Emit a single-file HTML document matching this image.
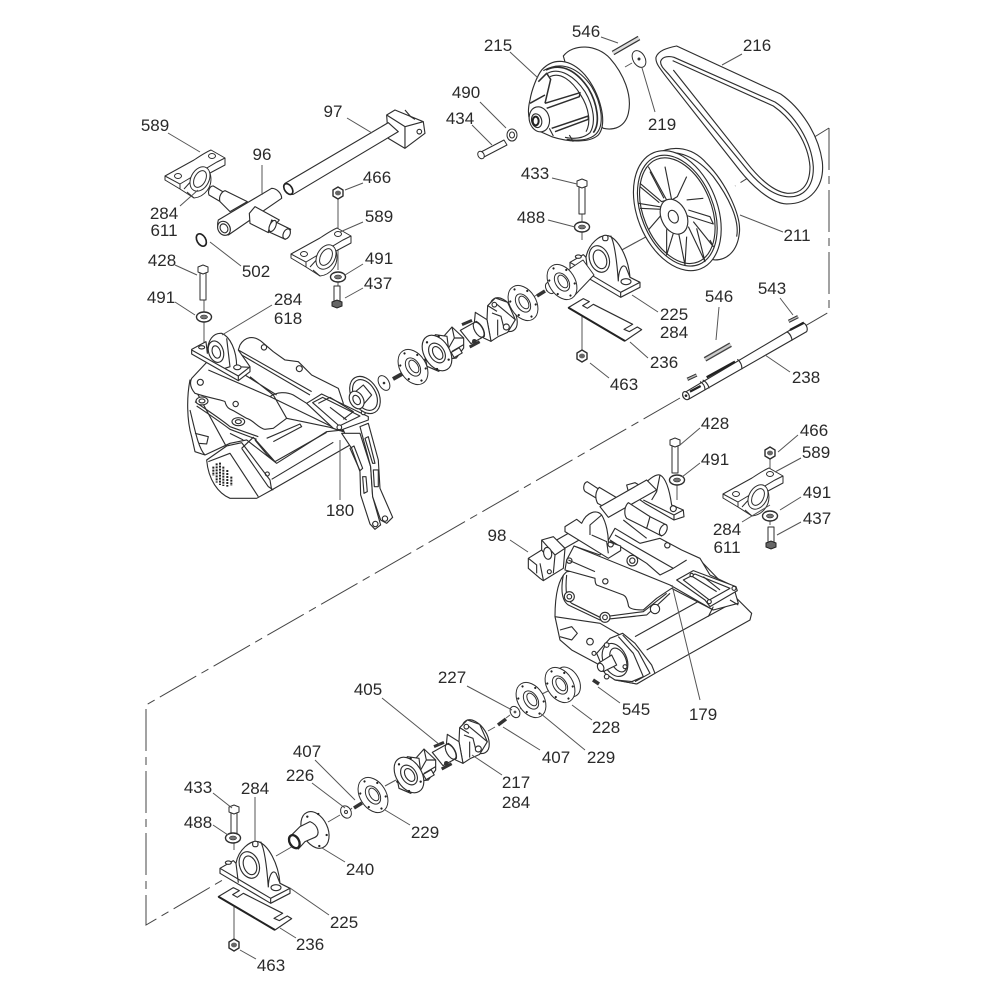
<!DOCTYPE html>
<html><head><meta charset="utf-8"><style>
html,body{margin:0;padding:0;background:#fff}
svg{display:block}
text{font-family:"Liberation Sans",sans-serif;font-size:17px;fill:#2a2a2a;text-anchor:middle}
.p{fill:#fff;stroke:#2e2e2e;stroke-width:1;stroke-linejoin:round}
.n{fill:none;stroke:#2e2e2e;stroke-width:1}
.z{fill:#fff;stroke:#2e2e2e;stroke-width:3.4;stroke-linejoin:round}
.zn{fill:none;stroke:#2e2e2e;stroke-width:3.4;stroke-linejoin:round}
.L{stroke:#555;stroke-width:1;fill:none}
.C{stroke:#444;stroke-width:1;fill:none;stroke-dasharray:42 6 8 6}
</style></head><body>
<svg width="1000" height="1000" viewBox="0 0 1000 1000" xmlns="http://www.w3.org/2000/svg">
<defs>
<g id="fl">
<g transform="rotate(-32)">
<ellipse class="p" cx="0" cy="0" rx="13" ry="19"/>
<ellipse class="p" cx="0" cy="0" rx="6.5" ry="10"/>
<ellipse class="p" cx="1" cy="0" rx="4" ry="7"/>
<g fill="#222"><circle cx="0" cy="-16" r="1.1"/><circle cx="0" cy="16" r="1.1"/><circle cx="10" cy="-8" r="1.1"/><circle cx="10" cy="8" r="1.1"/><circle cx="-10" cy="-8" r="1.1"/><circle cx="-10" cy="8" r="1.1"/></g>
</g></g>
<g id="uj"><g transform="scale(.3333) translate(-170 -250)">
<ellipse class="z" cx="370" cy="135" rx="33" ry="56" transform="rotate(-32 370 135)"/>
<path class="z" d="M322 108 L345 85 L382 98 L405 150 L382 188 L355 200 L332 215 L320 150 Z"/>
<path class="zn" d="M345 100 L375 125 L405 150 M335 130 L362 140 L372 180 M352 150 L352 198 M322 108 L350 125"/>
<circle class="z" cx="342" cy="105" r="7"/><circle class="z" cx="378" cy="172" r="9"/>
<path class="z" d="M285 128 L320 150 L332 215 L310 205 L295 170 L282 160 Z"/>
<path class="z" d="M240 182 L288 155 C305 165 315 185 312 200 L272 222 Z"/>
<ellipse class="zn" cx="295" cy="180" rx="12" ry="25" transform="rotate(-30 295 180)"/>
<path d="M245 165 L275 152" stroke="#333" stroke-width="9"/><path d="M268 232 L298 216" stroke="#333" stroke-width="9"/>
<circle cx="282" cy="215" r="7" fill="#333"/>
<path class="z" d="M190 200 L215 172 L250 205 L250 235 L228 265 L200 268 Z"/>
<path class="zn" d="M215 172 L222 205 L250 205 M222 205 L205 235 M215 245 L250 225"/>
<rect class="z" x="215" y="240" width="28" height="18" transform="rotate(-30 229 249)"/>
<path class="z" d="M130 240 L165 195 L200 200 L210 280 L175 305 L140 290 Z"/>
<ellipse class="z" cx="170" cy="250" rx="38" ry="58" transform="rotate(-32 170 250)"/>
<ellipse class="z" cx="170" cy="250" rx="22" ry="32" transform="rotate(-32 170 250)"/>
<ellipse class="z" cx="172" cy="250" rx="13" ry="21" transform="rotate(-32 172 250)"/>
<g fill="#222"><circle cx="140" cy="218" r="3.5"/><circle cx="175" cy="200" r="3.5"/><circle cx="205" cy="270" r="3.5"/><circle cx="170" cy="298" r="3.5"/><circle cx="135" cy="270" r="3.5"/></g>
</g></g>
<g id="fb">
<path class="p" d="M723 494 L752 478 C758 474 764 470 769 468 L783 476 L783 483 L768 491 C772 505 762 515 752 516 L738 507 L723 498 Z"/>
<path class="n" d="M723 494 L738 502 L738 507 M738 502 L775 480 L783 476 M742 507 L752 496 M745 510 L752 516"/>
<ellipse class="p" cx="758" cy="497" rx="9" ry="13" transform="rotate(28 758 497)"/>
<ellipse class="p" cx="758" cy="497" rx="5.5" ry="9" transform="rotate(28 758 497)"/>
<ellipse class="p" cx="736" cy="494" rx="3.5" ry="2.5"/><ellipse class="p" cx="770" cy="474" rx="3.5" ry="2.5"/>
</g>
<g id="pb"><g transform="translate(200 700) scale(.3333)">
<path class="z" d="M60 505 L100 482 L108 490 C115 450 150 420 175 425 C205 435 235 490 240 550 L270 565 L270 580 L212 610 L60 520 Z"/>
<path class="zn" d="M60 505 L212 595 L212 610 M212 595 L270 565 M108 490 L115 548 M205 562 C205 535 215 505 228 520 L240 550 M182 425 C195 450 202 520 205 562"/>
<ellipse class="z" cx="148" cy="495" rx="29" ry="41" transform="rotate(-20 148 495)"/>
<ellipse class="z" cx="150" cy="496" rx="19" ry="29" transform="rotate(-20 150 496)"/>
<rect class="z" x="158" y="424" width="16" height="16" rx="6"/>
<ellipse class="z" cx="228" cy="563" rx="15" ry="9"/>
<ellipse class="z" cx="85" cy="488" rx="9" ry="5"/>
</g></g>
<g id="pl"><g transform="translate(200 700) scale(.3333)">
<path class="z" d="M55 590 L100 563 L118 572 L98 584 L112 592 L130 580 L248 640 L222 655 L238 662 L262 648 L275 656 L225 690 Z"/>
<path d="M55 590 L225 690" stroke="#222" stroke-width="6"/>
</g></g>
<g id="nut"><path class="p" style="stroke-width:1.4" d="M-5 -3 L0 -6 L5 -3 L5 3 L0 6 L-5 3 Z"/><ellipse rx="3" ry="2.4" fill="#666"/></g>
<g id="wash"><ellipse class="p" style="stroke-width:1.4" rx="7.5" ry="5"/><ellipse rx="3.5" ry="2" fill="#777" stroke="#222" stroke-width=".6"/></g>
<g id="bolt"><rect class="p" x="-3" y="0" width="6" height="28"/><path class="p" d="M-5 0 L-5 -5 L0 -7 L5 -5 L5 0 L0 2 Z"/></g>
<g id="bolt2"><rect class="p" x="-3" y="-14" width="6" height="15"/><path d="M-5 2 L-5 6 L0 8 L5 6 L5 2 L0 0 Z" fill="#666" stroke="#222"/></g>
</defs>

<!-- centre lines -->
<path class="C" d="M829 128 V312 L687 395"/>
<path class="C" d="M829 128 L735 186 M655 232 L566 280"/>
<path class="C" d="M680 398 L146 705 V925 L226 878"/>
<path class="L" d="M338 198 V235 M338 250 V270 M338 282 V292 M204 295 V312 M204 322 V345 M582 212 V222 M582 232 V240 M582 300 V352 M677 480 V500 M770 456 V470 M770 512 V525 M234 842 V850 M234 905 V943"/>
<path class="L" d="M398 376 L410 369 M518 306 L505 314 M542 292 L528 300 M552 287 L546 291 M622 250 L640 240 M295 845 L276 856 M340 815 L328 822 M352 808 L350 810 M385 786 L396 780 M495 727 L488 731 M506 718 L510 715 M520 709 L525 706 M540 695 L550 690"/>

<!-- Belt 216 -->
<g transform="translate(510 20) scale(.3333)">
<path class="z" d="M438 112 C445 92 470 84 500 78 L812 222 C870 262 925 340 937 425 C945 500 900 552 830 552 C780 550 720 490 690 452 L470 172 C450 145 436 130 438 112 Z"/>
<path class="zn" d="M452 124 C458 108 478 108 492 112 L795 246 C855 285 905 365 910 440 C912 505 875 535 830 530 C780 525 735 480 700 435 L478 165 C465 150 450 138 452 124 Z"/>
<path class="zn" d="M488 122 L790 258 C848 298 895 370 900 440 C900 500 870 522 832 520 C790 515 750 478 712 430 L490 150"/>
<!-- pulley 211 -->
<path class="z" d="M438 405 C470 378 540 372 590 430 C650 490 695 590 688 640 C682 695 650 720 615 720 L500 700 L400 500 Z"/>
<path class="zn" d="M445 403 C500 385 560 410 610 470 C655 530 690 600 680 650"/>
<ellipse class="z" cx="502" cy="572" rx="120" ry="188" transform="rotate(-22 502 572)"/>
<ellipse class="zn" cx="502" cy="572" rx="108" ry="174" transform="rotate(-22 502 572)"/>
<ellipse class="zn" cx="502" cy="572" rx="102" ry="166" transform="rotate(-22 502 572)"/>
<path class="zn" d="M415 440 L470 540 L455 545 L390 490 M465 440 L485 540 L502 530 L530 470 M385 550 L460 562 L460 578 L415 630 M530 540 L580 535 M525 585 L610 612 L600 590 L535 570 M470 628 L470 705 L490 640 M505 635 L525 735 L530 650 M535 620 L585 725 L560 625 M550 605 L610 680 L600 660"/>
<path class="zn" d="M420 455 L462 535 M390 500 L448 548 M390 565 L455 568"/>
<ellipse class="z" cx="492" cy="590" rx="38" ry="55" transform="rotate(-25 492 590)"/>
<ellipse class="z" cx="490" cy="590" rx="14" ry="20" transform="rotate(-25 490 590)"/>
<!-- pulley 215 -->
<path class="z" d="M160 108 C190 70 260 72 300 115 C340 160 368 225 355 280 C345 322 310 332 280 325 L200 250 Z"/>
<path class="z" d="M95 150 C130 112 180 115 225 165 C270 220 295 310 265 345 C240 368 180 368 125 350 L80 330 C55 310 50 280 60 240 C65 210 80 170 95 150 Z"/>
<path class="zn" d="M100 152 C160 118 210 150 245 200 C275 250 285 315 258 342 C240 360 205 364 170 358"/>
<path class="zn" style="stroke-width:5" d="M108 150 C160 125 205 160 235 205 C262 250 272 310 250 338"/>
<path class="zn" d="M112 160 C150 140 195 170 225 215 C252 260 258 310 240 338 C220 356 190 358 165 352"/>
<path class="zn" d="M120 170 C150 155 185 180 212 225 C238 265 243 310 228 335"/>
<path class="zn" style="stroke-width:4.5" d="M85 185 L110 160 L122 178 L105 250 M60 250 L105 225 M105 250 L210 218 L208 230 L110 265 M125 325 L235 288 L235 298 L135 335"/>
<path class="zn" d="M118 325 L130 348 M178 345 L190 365"/>
<ellipse class="z" cx="88" cy="298" rx="30" ry="38" transform="rotate(-15 88 298)"/>
<ellipse class="z" cx="80" cy="302" rx="15" ry="21" transform="rotate(-15 80 302)"/>
<ellipse cx="77" cy="303" rx="9" ry="13" fill="#fff" stroke="#222" stroke-width="6"/>
</g>
<path d="M613 53 L639 38" stroke="#333" stroke-width="5"/><path d="M613 53 L639 38" stroke="#ddd" stroke-width="2.5"/>
<g transform="translate(639 59)"><ellipse class="p" rx="6" ry="9" transform="rotate(-30)"/><circle r="1.5" fill="#333"/></g>
<path class="L" d="M625 67 L632 63"/>

<!-- 490, 434 -->
<g transform="translate(512 135)"><ellipse class="p" rx="5" ry="6"/><ellipse class="p" rx="2.5" ry="3"/></g>
<path class="p" d="M481 152 L504 140 L507 145 L484 157 Z"/><ellipse class="p" cx="481" cy="155" rx="3" ry="4" transform="rotate(-30 481 155)"/>

<!-- T bar, bar 97, 589 -->
<g transform="translate(140 100) scale(.3333)">
<path class="z" d="M740 45 L765 30 L850 65 L855 100 L795 145 L745 115 Z"/>
<path class="zn" d="M740 45 L795 80 L850 65 M795 80 L795 145 M795 30 L812 50 L825 58"/>
<circle class="zn" cx="838" cy="95" r="7"/>
<path class="z" d="M435 250 L745 68 L775 95 L460 283 C445 285 425 268 435 250 Z"/>
<ellipse cx="445" cy="267" rx="11" ry="18" fill="#fff" stroke="#222" stroke-width="5" transform="rotate(-35 445 267)"/>
<path class="z" d="M220 258 C208 258 203 275 207 285 L250 310 L265 285 Z"/>
<path class="z" d="M255 272 L322 305 L270 335 L240 305 C235 290 245 275 255 272 Z"/>
<path class="z" d="M235 360 L395 265 C410 265 425 280 425 295 L265 405 C240 405 228 385 235 360 Z"/>
<ellipse class="z" cx="252" cy="385" rx="18" ry="22" transform="rotate(-30 252 385)"/>
<ellipse class="z" cx="252" cy="385" rx="11" ry="14" transform="rotate(-30 252 385)"/>
<path class="z" d="M345 320 L418 360 L385 398 L330 370 L328 340 Z"/>
<path class="z" d="M395 360 L452 388 L436 418 L385 395 Z"/>
<ellipse class="z" cx="440" cy="402" rx="10" ry="16" transform="rotate(25 440 402)"/>
<ellipse class="z" cx="398" cy="378" rx="9" ry="18" transform="rotate(25 398 378)"/>
<ellipse cx="184" cy="420" rx="13" ry="20" fill="none" stroke="#222" stroke-width="5" transform="rotate(-30 184 420)"/>
</g>
<use href="#fb" transform="translate(-558 -318)"/>
<use href="#fb" transform="translate(-432 -240)"/>
<use href="#fb"/>
<use href="#nut" transform="translate(338 193)"/>
<use href="#wash" transform="translate(338 277)"/>
<use href="#bolt2" transform="translate(337 300)"/>
<use href="#bolt" transform="translate(203 272)"/>
<use href="#wash" transform="translate(204 317)"/>
<use href="#bolt" transform="translate(582 186)"/>
<use href="#wash" transform="translate(582 227)"/>
<use href="#pl" transform="translate(350 -589)"/>
<use href="#pb" transform="translate(350 -606)"/>
<use href="#nut" transform="translate(582 356)"/>

<!-- gearbox left -->
<g transform="translate(130 320) scale(.3333)">
<path class="z" d="M180 180 C170 230 170 300 185 350 L195 395 L225 405 L300 370 L350 360 L440 430 L590 335 L640 330 L660 375 L425 510 L300 400 Z"/>
<path class="zn" d="M180 270 C195 330 205 385 225 405 M195 340 L235 350 L230 372 L205 370 M300 340 L340 360 M410 355 L510 312 L515 320 L430 365 M435 425 L590 337 M425 478 L610 367"/>
<path class="z" d="M230 420 L290 378 L335 368 L420 480 L425 510 L380 535 L300 535 C265 520 235 480 230 420 Z"/>
<path class="zn" d="M335 385 L415 500 L430 510 M335 385 L370 352 L435 425 L412 405 L375 360 M235 425 L300 400 L385 530"/>
<circle class="zn" cx="412" cy="462" r="6"/>
<g stroke="#222" stroke-width="6" stroke-dasharray="6 3" fill="none"><path d="M250 440 V468"/><path d="M260 430 V488"/><path d="M270 428 V495"/><path d="M280 440 V498"/><path d="M292 450 V500"/><path d="M304 470 V498"/></g>
<!-- manifold plate -->
<path class="z" d="M185 175 L232 125 L325 180 L360 140 L325 90 L330 75 C345 50 370 45 395 65 L430 95 L465 120 L505 125 L545 165 L625 205 L640 250 L610 300 L640 335 L600 322 L470 295 L430 325 L405 328 C385 325 370 300 350 295 L310 272 C300 268 290 265 285 245 C280 240 240 235 195 220 C182 205 178 190 185 175 Z"/>
<path class="zn" d="M325 90 L545 215 M335 105 L540 225 M235 150 L420 230 L610 322 M420 230 C440 215 470 215 490 225 L530 250 M345 165 L440 225 M360 170 L430 225 L470 295"/>
<path class="zn" d="M195 245 C230 270 270 295 300 320 L385 350 M200 258 C240 285 270 305 300 328 L380 358"/>
<circle class="zn" cx="211" cy="187" r="9"/><circle class="zn" cx="317" cy="252" r="8"/><circle class="zn" cx="402" cy="82" r="8"/><circle class="zn" cx="508" cy="146" r="9"/>
<ellipse class="z" cx="216" cy="243" rx="18" ry="12"/><ellipse class="z" cx="216" cy="243" rx="9" ry="6"/>
<ellipse class="z" cx="325" cy="305" rx="19" ry="12"/><ellipse class="z" cx="325" cy="305" rx="9" ry="6"/>
<!-- arms -->
<path class="z" d="M635 340 L665 385 L690 455 L692 525 L720 612 L735 628 L752 615 L728 530 L722 440 L690 340 Z"/>
<path class="z" d="M690 320 L715 310 L745 420 L750 505 L788 592 L770 610 L752 600 L728 530 L722 440 Z"/>
<path class="zn" d="M660 385 L672 378 L698 445 L690 452 Z M698 470 L708 470 L712 515 L702 520 Z M705 355 L715 350 L735 430 L728 430 Z M730 450 L745 450 L745 500 L733 500 Z"/>
<circle class="z" cx="736" cy="612" r="8"/><circle class="z" cx="765" cy="596" r="8"/>
<!-- frame -->
<path class="z" d="M530 250 L575 222 L715 290 L715 300 L628 332 L610 325 Z"/>
<path class="z" d="M548 248 L578 232 L690 288 L628 318 Z"/>
<path class="zn" d="M565 250 L600 232 L670 275 L640 298 M600 262 L650 300"/>
<circle class="z" cx="628" cy="322" r="7"/><circle class="z" cx="700" cy="278" r="6"/>
<!-- bearing -->
<path class="z" d="M185 88 L228 65 L232 100 C232 60 250 38 275 40 C300 50 320 90 320 140 L360 142 L360 155 L325 182 L185 102 Z"/>
<path class="zn" d="M185 90 L325 168 L325 182 M325 168 L358 142 M290 55 L300 140 L285 145"/>
<ellipse class="z" cx="258" cy="95" rx="22" ry="33" transform="rotate(-18 258 95)"/>
<ellipse class="z" cx="259" cy="96" rx="12" ry="19" transform="rotate(-18 259 96)"/>
<ellipse class="z" cx="322" cy="142" rx="11" ry="7"/><ellipse class="z" cx="215" cy="82" rx="9" ry="5"/>
<!-- gearbox-side flange -->
<ellipse class="z" cx="705" cy="225" rx="40" ry="60" transform="rotate(-30 705 225)"/>
<ellipse class="zn" cx="705" cy="225" rx="32" ry="50" transform="rotate(-30 705 225)"/>
<path class="z" d="M665 225 L700 195 L725 225 L690 265 Z"/>
<ellipse class="z" cx="680" cy="240" rx="20" ry="28" transform="rotate(-30 680 240)"/>
<ellipse class="z" cx="680" cy="240" rx="10" ry="15" transform="rotate(-30 680 240)"/>
</g>
<g transform="translate(384 383)"><ellipse class="p" rx="5" ry="8" transform="rotate(-30)"/><circle r="1.3" fill="#333"/></g>
<path d="M393 379 L402 374" stroke="#333" stroke-width="4"/>
<use href="#fl" transform="translate(413 367)"/>
<use href="#uj" transform="translate(437 353)"/>
<use href="#fl" transform="translate(523 303)"/>
<path d="M537 296 L545 291" stroke="#333" stroke-width="3.5"/>
<g transform="translate(550 288)"><ellipse class="p" rx="4" ry="6" transform="rotate(-30)"/></g>
<path class="p" d="M565 272 L583 260 L594 275 L575 295 Z"/>
<use href="#fl" transform="translate(562 282)"/>

<!-- 238 shaft -->
<g transform="translate(660 280) scale(.3333)">
<path d="M135 238 L212 194" stroke="#444" stroke-width="15"/><path d="M135 238 L212 194" stroke="#ccc" stroke-width="7"/>
<path class="z" d="M70 340 L428 128 C438 130 445 145 440 155 L85 358 C72 358 65 350 70 340 Z"/>
<ellipse class="z" cx="78" cy="347" rx="9" ry="13" transform="rotate(-30 78 347)"/>
<circle cx="78" cy="347" r="4" fill="#222"/>
<path d="M90 335 L122 318 M140 292 L225 245 M390 150 L432 128" stroke="#222" stroke-width="7" fill="none"/>
<path class="zn" d="M120 305 C130 310 135 320 135 330 M128 300 C140 305 147 320 147 325 M232 238 C242 245 247 258 245 268 M380 155 C390 160 396 172 396 182"/>
<path d="M82 298 L110 285 M386 124 L414 110" stroke="#333" stroke-width="10"/><path d="M82 298 L110 285 M386 124 L414 110" stroke="#bbb" stroke-width="4"/>
</g>

<!-- right gearbox -->
<g transform="translate(500 460) scale(.3333)">
<path class="z" d="M200 335 C170 360 165 420 165 470 L180 540 L215 570 L290 610 L345 660 L410 672 L465 640 L750 480 L755 460 L715 420 L600 300 Z"/>
<path class="zn" d="M440 570 L700 427 M405 530 L630 405 M180 510 L215 500 L232 520 L215 540 L180 530"/>
<!-- plate -->
<path class="z" d="M195 330 L200 300 L222 258 L300 285 L345 205 L420 250 L480 235 L545 270 L600 295 L630 345 L700 378 L715 430 L640 450 L515 385 L470 415 L430 450 C400 450 385 445 385 435 C380 410 375 408 370 405 L290 375 C285 370 285 360 285 355 Z"/>
<path class="zn" d="M222 258 L510 375 L640 450 M205 300 L285 335 M345 225 L520 325 L560 300 M370 180 L440 235 M330 240 L440 310 L480 345 L520 325"/>
<path class="zn" d="M190 345 C180 400 190 425 205 435 L300 480 L440 465 L510 400 M200 345 C195 395 200 420 215 430 L300 472 L430 455 L500 400 M165 470 L300 490 L360 525"/>
<circle class="z" cx="208" cy="410" r="15"/><circle class="z" cx="208" cy="410" r="7"/>
<circle class="z" cx="315" cy="472" r="15"/><circle class="z" cx="315" cy="472" r="7"/>
<circle class="z" cx="465" cy="447" r="14"/><circle class="z" cx="397" cy="302" r="16"/><circle class="z" cx="397" cy="302" r="8"/>
<circle class="zn" cx="316" cy="364" r="8"/><circle class="zn" cx="502" cy="256" r="8"/><circle class="zn" cx="208" cy="302" r="8"/>
<!-- frame -->
<path class="z" d="M530 360 L580 332 L708 380 L712 392 L630 440 L615 420 Z"/>
<path class="z" d="M550 360 L585 342 L690 385 L628 420 Z"/>
<path class="zn" d="M570 345 L650 395 M610 350 L660 390 M640 440 L625 470 M690 420 L715 435"/>
<circle class="z" cx="628" cy="425" r="6"/><circle class="z" cx="702" cy="385" r="6"/><circle class="z" cx="575" cy="345" r="5"/>
<!-- end cap -->
<path class="z" d="M290 580 L330 535 L368 520 L405 550 L455 615 L465 640 L410 672 L345 660 L315 640 Z"/>
<path class="zn" d="M368 525 L415 575 L450 640 L405 665 M355 530 L400 580 L430 650 L395 665 M345 660 L400 665"/>
<circle class="zn" cx="270" cy="545" r="10"/>
<ellipse class="z" cx="345" cy="600" rx="35" ry="52" transform="rotate(-25 345 600)"/>
<ellipse class="zn" cx="355" cy="600" rx="22" ry="38" transform="rotate(-25 355 600)"/>
<path class="z" d="M295 610 L335 585 L350 615 L310 635 Z"/>
<ellipse class="z" cx="302" cy="622" rx="9" ry="13" transform="rotate(-25 302 622)"/>
<circle class="z" cx="320" cy="555" r="7"/><circle class="z" cx="320" cy="650" r="7"/><circle class="z" cx="375" cy="620" r="6"/><circle class="z" cx="282" cy="580" r="6"/>
<!-- bearing rear -->
<path class="z" d="M380 75 L405 68 L425 80 C440 65 465 40 480 45 C500 55 510 100 515 135 L550 150 L552 170 L522 180 L435 130 L385 95 Z"/>
<path class="zn" d="M430 120 L522 165 L522 180 M522 165 L550 150 M480 45 L470 95 L455 120"/>
<circle class="zn" cx="520" cy="146" r="9"/>
<!-- shafts -->
<path class="z" d="M262 65 C250 68 248 88 256 95 L290 115 L300 90 Z"/>
<path class="z" d="M298 82 C285 95 285 115 293 130 L330 150 L370 125 Z"/>
<path class="z" d="M300 140 L440 60 L470 90 L325 172 Z"/>
<path class="z" d="M440 165 L500 195 L485 228 L430 200 Z"/>
<path class="z" d="M385 128 C372 140 372 165 380 175 L440 205 L450 170 Z"/>
<ellipse class="z" cx="490" cy="210" rx="10" ry="18" transform="rotate(25 490 210)"/>
<path class="z" d="M170 240 L275 180 L290 210 L185 270 Z"/>
<!-- bearing front -->
<path class="z" d="M195 200 L230 178 L245 190 C260 155 290 148 305 165 C320 190 325 225 325 245 L362 258 L362 272 L325 295 L195 215 Z"/>
<path class="zn" d="M275 225 L320 245 L325 280 M305 165 L270 195 L270 225"/>
<circle class="zn" cx="332" cy="253" r="8"/>
<!-- block 98 -->
<path class="z" d="M85 295 L125 270 L125 240 L160 230 L195 265 L190 325 L130 362 L120 355 L85 325 Z"/>
<path class="zn" d="M125 240 L165 285 L195 265 M165 285 L160 340 M85 295 L110 315 L110 340 M125 270 L145 295 M120 310 L130 360"/>
<ellipse class="z" cx="143" cy="280" rx="12" ry="18" transform="rotate(-10 143 280)"/>
<circle class="zn" cx="148" cy="335" r="6"/>
</g>
<use href="#bolt" transform="translate(675 445)"/>
<use href="#wash" transform="translate(677 480)"/>
<use href="#nut" transform="translate(770 453)"/>
<use href="#wash" transform="translate(770 516)"/>
<use href="#bolt2" transform="translate(771 541)"/>
<path d="M593 680 L599 684" stroke="#333" stroke-width="3.5"/>

<!-- lower assembly -->
<ellipse class="p" cx="568" cy="682" rx="11" ry="16" transform="rotate(-30 568 682)"/>
<use href="#fl" transform="translate(560 685)"/>
<use href="#fl" transform="translate(531 700)"/>
<g transform="translate(515 712)"><ellipse class="p" rx="4.5" ry="6" transform="rotate(-30)"/><circle r="1.4" fill="#555"/></g>
<path d="M498 725 L506 719" stroke="#333" stroke-width="3.5"/>
<use href="#uj" transform="translate(409 775)"/>
<use href="#fl" transform="translate(373 795)"/>
<path d="M354 808 L362 803" stroke="#333" stroke-width="3.5"/>
<g transform="translate(346 812)"><ellipse class="p" rx="5" ry="6.5" transform="rotate(-30)"/><circle r="1.5" fill="#fff" stroke="#333"/></g>
<!-- 240 -->
<g transform="translate(200 700) scale(.3333)">
<ellipse class="z" cx="345" cy="390" rx="38" ry="58" transform="rotate(-25 345 390)"/>
<g fill="#222"><circle cx="322" cy="350" r="3.5"/><circle cx="355" cy="342" r="3.5"/><circle cx="380" cy="405" r="3.5"/><circle cx="358" cy="438" r="3.5"/></g>
<path class="z" d="M268 412 L300 380 L330 365 C355 375 362 405 345 412 L315 425 L295 447 Z"/>
<ellipse cx="283" cy="425" rx="14" ry="21" fill="#fff" stroke="#222" stroke-width="7" transform="rotate(-30 283 425)"/>
</g>
<use href="#pl"/>
<use href="#pb"/>
<use href="#bolt" transform="translate(234 812)"/>
<use href="#wash" transform="translate(233 838)"/>
<use href="#nut" transform="translate(234 945)"/>

<!-- leaders -->
<path class="L" d="M601 37 L618 43 M510 52 L538 78 M742 54 L722 65 M655 112 L642 68 M480 102 L506 128 M472 125 L492 145 M347 118 L372 133 M168 133 L200 152 M262 165 V195 M363 183 L345 190 M552 178 L577 184 M180 206 L198 190 M363 222 L340 232 M548 220 L575 227 M783 232 L740 215 M175 265 L197 275 M241 266 L210 242 M363 264 L345 275 M363 288 L345 298 M175 302 L195 315 M272 305 L222 335 M780 298 L793 315 M719 307 L716 340 M658 312 L632 295 M648 358 L630 342 M609 378 L590 363 M790 372 L765 355 M340 500 V440 M700 428 L680 445 M700 463 L682 477 M798 435 L778 452 M801 458 L775 472 M801 497 L780 510 M801 522 L777 535 M742 522 L770 505 M510 540 L528 552 M467 686 L512 710 M382 698 L440 745 M620 703 L598 687 M700 700 L672 585 M592 720 L572 705 M540 750 L503 727 M585 750 L540 713 M502 775 L472 755 M315 760 L355 800 M312 783 L345 808 M213 793 L232 808 M255 797 V842 M213 825 L228 835 M410 825 L385 810 M345 862 L322 848 M329 915 L290 888 M296 938 L280 928 M256 959 L240 950"/>

<!-- labels -->
<text x="586" y="37">546</text><text x="498" y="51">215</text><text x="757" y="51">216</text><text x="662" y="130">219</text>
<text x="466" y="98">490</text><text x="333" y="117">97</text><text x="460" y="124">434</text><text x="155" y="131">589</text>
<text x="262" y="160">96</text><text x="377" y="183">466</text><text x="535" y="179">433</text><text x="164" y="219">284</text>
<text x="164" y="236">611</text><text x="379" y="222">589</text><text x="531" y="223">488</text><text x="797" y="241">211</text>
<text x="162" y="266">428</text><text x="256" y="277">502</text><text x="379" y="264">491</text><text x="378" y="289">437</text>
<text x="161" y="303">491</text><text x="288" y="305">284</text><text x="288" y="324">618</text><text x="772" y="294">543</text>
<text x="719" y="302">546</text><text x="674" y="320">225</text><text x="674" y="338">284</text><text x="664" y="368">236</text>
<text x="624" y="390">463</text><text x="806" y="383">238</text><text x="340" y="516">180</text><text x="715" y="429">428</text>
<text x="715" y="465">491</text><text x="814" y="436">466</text><text x="816" y="458">589</text><text x="817" y="498">491</text>
<text x="817" y="524">437</text><text x="727" y="535">284</text><text x="727" y="553">611</text><text x="497" y="541">98</text>
<text x="452" y="683">227</text><text x="368" y="695">405</text><text x="636" y="715">545</text><text x="703" y="720">179</text>
<text x="606" y="733">228</text><text x="556" y="763">407</text><text x="601" y="763">229</text><text x="516" y="788">217</text>
<text x="516" y="808">284</text><text x="307" y="757">407</text><text x="300" y="781">226</text><text x="198" y="793">433</text>
<text x="255" y="794">284</text><text x="198" y="828">488</text><text x="425" y="838">229</text><text x="360" y="875">240</text>
<text x="344" y="928">225</text><text x="310" y="950">236</text><text x="271" y="971">463</text>
</svg>
</body></html>
